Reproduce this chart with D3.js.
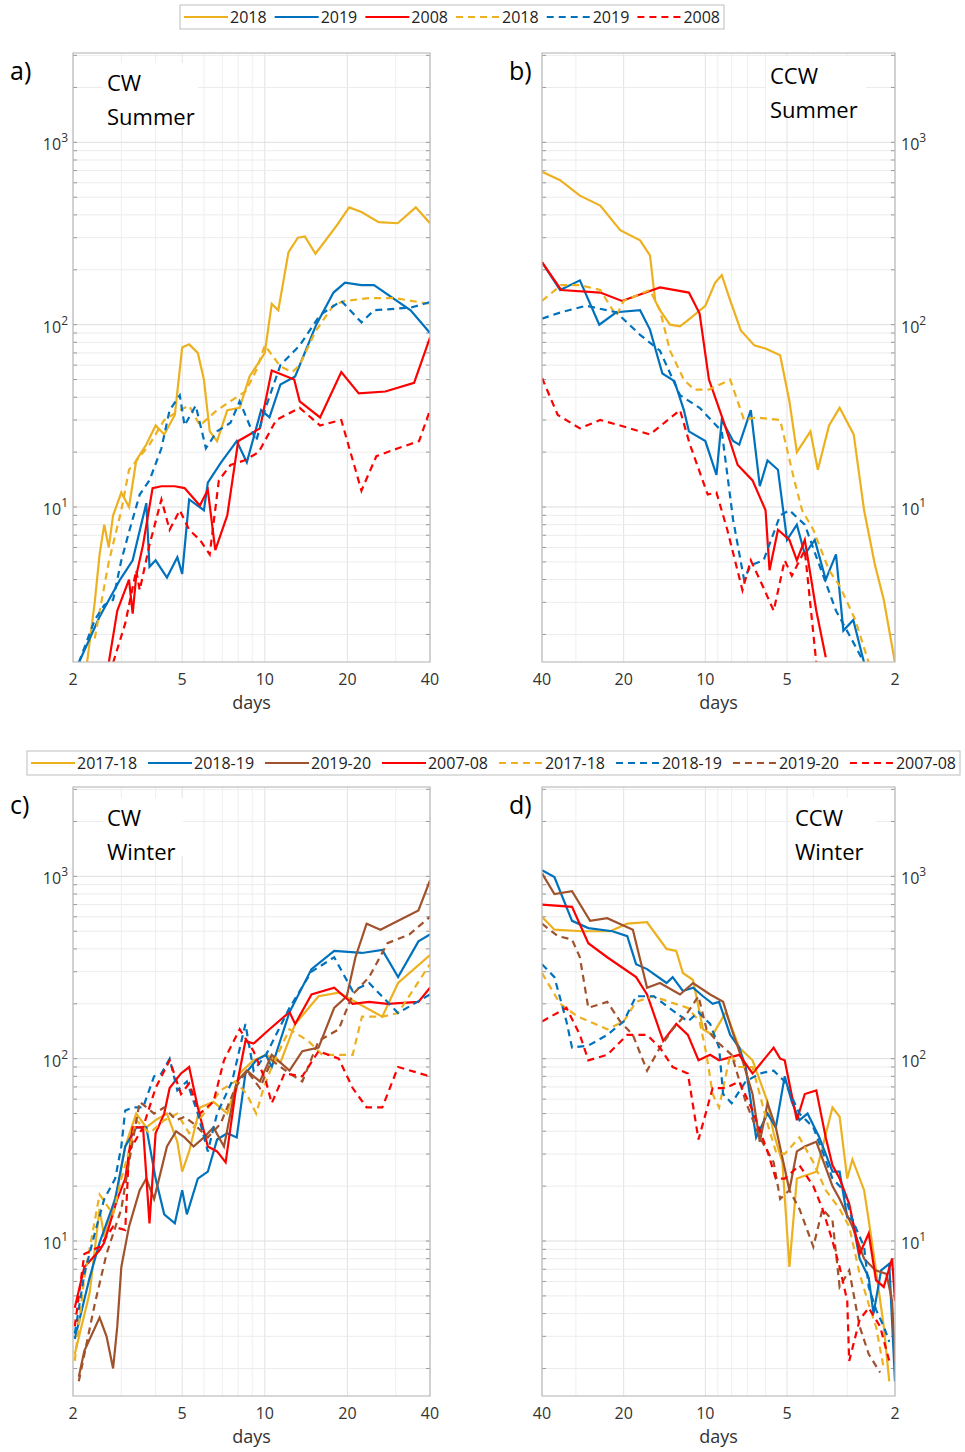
<!DOCTYPE html>
<html><head><meta charset="utf-8">
<script src="https://cdn.jsdelivr.net/npm/d3@7"></script>
<style>
body{margin:0;background:#fff;}
text{font-family:"Open Sans","DejaVu Sans",sans-serif;}
</style></head>
<body><div id="root"></div>
<script>
// ---- data: [days, value] ----
const cwSum2018 = [[2.25,1.4],[2.4,3],[2.5,5.5],[2.6,8],[2.7,6],[2.8,9],[3.0,12],[3.2,10],[3.4,18],[3.7,22],[4.0,28],[4.3,25],[4.7,32],[5.0,75],[5.3,78],[5.7,70],[6.0,50],[6.3,26],[6.7,23],[7.3,34],[8.1,35],[8.8,52],[9.5,62],[10,70],[10.6,130],[11.2,120],[12.2,250],[13.2,300],[14,305],[15.3,245],[18.3,350],[20.3,440],[22.5,415],[26,365],[30.5,360],[35.5,440],[40,360]];
const cwSum2019 = [[2.1,1.4],[2.5,2.5],[2.97,4],[3.3,5.1],[3.7,10.5],[3.8,4.7],[4.0,5.1],[4.4,4.1],[4.8,5.3],[5.0,4.3],[5.3,11],[6.0,9.6],[6.2,13.6],[6.9,17.4],[7.9,23],[8.6,17.6],[9.7,34],[10.4,31],[11.4,47],[12.9,52],[15.4,100],[17.8,150],[19.6,170],[22.5,165],[25,165],[34,120],[40,90]];
const cwSum2008 = [[2.7,1.4],[2.9,2.7],[3.2,4],[3.3,2.6],[3.4,4.2],[3.6,6.2],[3.9,12.7],[4.2,13],[4.7,13],[5.1,12.7],[5.8,10.2],[6.2,12.4],[6.6,5.8],[7.3,9],[8.0,23],[8.8,25],[9.6,27],[10.6,56],[12.8,50],[13.4,38],[15.9,31],[19,55],[22,42],[27.5,43],[35,48],[40,85]];
const cwSum2018d = [[2.4,1.9],[2.7,5],[3.0,9.6],[3.2,16],[3.8,22],[4.3,30],[4.9,34],[5.3,36],[5.8,28],[6.7,34],[7.5,38],[8.5,43],[9.3,56],[10,77],[11.4,59],[12.6,55],[13.4,60],[15.3,92],[17.8,128],[19.6,135],[24.2,140],[29.7,140],[40,130]];
const cwSum2019d = [[2.1,1.4],[2.4,2.4],[2.6,2.9],[2.8,3.1],[3.0,5.1],[3.2,7.3],[3.5,11.7],[3.8,14],[4.2,21],[4.5,34],[4.9,41],[5.1,28],[5.6,36],[6.1,21],[6.7,26],[7.5,29],[8.1,38],[9.3,23],[10,34],[11.4,60],[13.4,77],[15.9,113],[19,135],[22.5,103],[25,120],[34,124],[40,133]];
const cwSum2008d = [[2.8,1.4],[3.1,2.3],[3.4,4.5],[3.5,3.5],[3.8,6.2],[4.2,11],[4.5,7.5],[4.9,9.6],[5.3,7.5],[5.8,6.6],[6.3,5.5],[6.8,14],[7.5,17],[8.4,18],[9.5,20],[11,30],[13.4,35],[15.9,28],[19,30],[22.5,12.3],[25.5,19],[30.6,21],[36.5,23],[40,34]];

const ccwSum2018 = [[40,690],[34.3,620],[29,510],[24.4,450],[20.6,330],[17.4,290],[16,240],[15.3,135],[14.7,120],[13.5,100],[12.4,98],[11.4,108],[10,127],[9.2,170],[8.7,187],[8.1,136],[7.4,93],[6.6,77],[6,74],[5.3,68],[4.9,38],[4.6,20],[4.1,26],[3.85,16],[3.5,28],[3.2,35],[2.84,25],[2.6,9.6],[2.37,4.8],[2.2,3.1],[2.0,1.4]];
const ccwSum2019 = [[40,220],[34.3,155],[29,175],[24.6,100],[21.3,117],[17.4,120],[16,94],[14.4,54],[13,49],[12,34],[11.5,26],[10,23],[9.1,15],[8.7,30],[7.9,23],[7.5,22],[6.8,34],[6.3,13],[5.9,18],[5.4,16],[5.0,6.6],[4.6,8],[4.3,5.5],[3.95,6.6],[3.6,4],[3.3,5.5],[3.1,2.1],[2.85,2.4],[2.6,1.4]];
const ccwSum2008 = [[40,220],[34,155],[24.4,150],[20.3,135],[14.7,160],[11.5,150],[10.5,115],[9.7,50],[8.6,30],[7.6,17],[6.7,14],[6,9.6],[5.8,4.5],[5.4,7.5],[4.9,6.6],[4.6,5.1],[4.3,6.6],[3.9,2.7],[3.6,1.5]];
const ccwSum2018d = [[40,135],[34,165],[29,165],[24.4,155],[21.3,112],[20,135],[16,155],[14.7,120],[13.5,72],[12,50],[11,44],[9.7,44],[8.1,50],[7.2,30],[6.5,31],[5.3,30],[4.7,14],[4.4,9.6],[4.0,7.5],[3.5,4.5],[3.2,3.7],[2.8,2.4],[2.5,1.4]];
const ccwSum2019d = [[40,108],[34,117],[27.5,127],[21.3,117],[17.4,88],[14.7,72],[12.4,41],[10.5,35],[8.7,26],[7.9,8.5],[7.2,4],[6.8,4.8],[6.1,5.1],[5.3,9],[4.9,9.6],[4.3,8],[3.8,4.8],[3.3,2.7],[2.9,1.9],[2.6,1.4]];
const ccwSum2008d = [[40,51],[35,32],[29,27],[24.4,30],[20.6,28],[16,25],[12.4,34],[11.4,22],[9.8,11.7],[9.1,12],[8.3,7.5],[7.3,3.5],[6.8,5.1],[6.1,3.6],[5.6,2.7],[5.1,5.1],[4.8,4.2],[4.3,5.8],[3.9,1.4]];

const cwWin1718 = [[2.03,2.4],[2.3,5.2],[2.5,15],[2.6,10.5],[2.9,19],[3.1,33],[3.4,50],[3.7,42],[4.0,46],[4.4,50],[4.8,35],[5.0,24],[5.3,31],[5.8,54],[6.5,58],[7.3,50],[8.1,83],[9.1,98],[10.1,105],[11.4,95],[12.9,155],[15.7,220],[18.6,230],[22,200],[26.8,170],[30.6,260],[40,370]];
const cwWin1819 = [[2.03,2.9],[2.3,6.3],[2.5,9.8],[2.85,17],[3.1,33],[3.4,42],[3.7,42],[4,22],[4.3,14],[4.7,12.5],[5.0,19],[5.2,14],[5.7,22],[6.2,24],[6.7,36],[7.3,39],[7.9,37],[8.5,83],[9.3,98],[10.1,105],[10.6,90],[12.3,180],[14.8,310],[17.9,390],[22.6,380],[26.8,395],[30.6,280],[36.3,440],[40,480]];
const cwWin1920 = [[2.1,1.8],[2.2,2.5],[2.5,3.8],[2.65,3],[2.8,2.0],[2.9,3.4],[3.0,7.2],[3.2,12],[3.5,19],[3.7,22],[3.95,17],[4.4,33],[4.75,40],[5.1,37],[5.5,33],[6.0,37],[6.5,42],[7.1,33],[7.9,75],[8.6,86],[9.6,75],[10.6,105],[12.3,86],[13.7,110],[15.7,115],[17.9,190],[19.9,220],[21.4,360],[23.5,550],[26.4,510],[36.3,650],[40,950]];
const cwWin0708 = [[2.03,4.3],[2.2,7.2],[2.5,8.9],[2.6,9.8],[2.9,17],[3.1,22],[3.3,42],[3.6,42],[3.8,12.5],[4.0,39],[4.3,50],[4.5,69],[4.95,83],[5.3,90],[5.7,54],[6.2,33],[6.7,31],[7.2,27],[7.8,64],[8.5,125],[9.1,121],[10.4,145],[12.3,180],[12.9,155],[14.8,225],[17.9,245],[20.9,200],[24,205],[28,200],[36.3,205],[40,245]];
const cwWin1718d = [[2.03,2.2],[2.2,6.3],[2.5,18],[2.8,14],[3.0,22],[3.2,31],[3.4,46],[3.8,39],[4.3,46],[4.8,50],[5.3,39],[6.0,50],[6.9,67],[7.8,75],[8.6,64],[9.3,50],[9.9,69],[10.6,90],[12.3,145],[14.4,125],[16.2,105],[18.5,105],[20.9,105],[22.6,170],[26.8,170],[30.6,178],[40,330]];
const cwWin1819d = [[2.03,3.1],[2.2,6.6],[2.4,11],[2.6,17],[2.85,22],[3.0,33],[3.1,52],[3.3,54],[3.6,54],[3.95,80],[4.2,83],[4.5,100],[4.8,67],[5.2,75],[5.7,50],[6.2,31],[6.7,50],[7.6,75],[8.5,155],[9.1,86],[10.1,105],[12.3,190],[14.8,300],[17.9,360],[20.9,235],[24,260],[30.6,178],[40,225]];
const cwWin1920d = [[2.1,1.7],[2.4,4.5],[2.65,8.5],[3.0,15],[3.2,27],[3.5,58],[3.95,50],[4.3,54],[4.75,46],[5.1,48],[5.5,44],[6.2,37],[6.9,44],[7.8,69],[8.6,86],[9.6,69],[10.6,98],[12.3,83],[13.7,75],[15.7,125],[18.6,145],[20.9,225],[24,280],[28,430],[33.6,480],[40,600]];
const cwWin0708d = [[2.03,3.4],[2.2,8.5],[2.5,9.3],[2.8,12],[3.1,11.5],[3.2,31],[3.6,42],[4.0,69],[4.5,98],[4.95,64],[5.3,73],[5.8,50],[6.5,58],[7.1,98],[8.1,145],[9.1,110],[10.1,75],[10.6,57],[11.8,83],[13.7,80],[15.7,110],[18.6,100],[20.9,69],[23.5,54],[26.8,54],[30.6,90],[40,80]];

const ccwWin1718 = [[40,600],[36,510],[28.5,500],[22.4,500],[19.4,550],[16.4,560],[13.9,400],[12.8,390],[12.1,295],[11.1,270],[10.2,145],[9.4,135],[8.4,180],[7.5,115],[6.7,98],[5.9,58],[5.6,39],[5.2,27],[4.9,7.2],[4.6,22],[3.9,24],[3.4,54],[3.2,48],[3.0,22],[2.87,28],[2.6,19],[2.5,13],[2.36,7.2],[2.2,3.4],[2.1,1.7]];
const ccwWin1819 = [[40,1080],[36,990],[31,570],[27,520],[22,500],[19.4,470],[18,330],[16.4,310],[13.9,260],[13.2,280],[12.1,235],[11.1,245],[10.2,220],[9.4,200],[8.9,205],[8.1,135],[7.5,115],[7.1,90],[6.5,37],[5.9,50],[5.5,42],[5.1,80],[4.8,58],[4.5,46],[4.2,50],[3.8,37],[3.4,24],[3.2,24],[3.0,13.5],[2.87,13],[2.7,8],[2.5,6.3],[2.4,4],[2.25,6.9],[2.1,7.5],[2.0,1.7]];
const ccwWin1920 = [[40,1040],[36,800],[31,830],[26.6,570],[23,590],[18.5,510],[16.4,245],[14.7,260],[12.4,225],[11.1,260],[9.6,225],[8.6,205],[8.0,145],[7.3,98],[6.7,64],[6.3,35],[5.9,57],[5.5,42],[4.9,19],[4.6,31],[4.3,33],[3.9,35],[3.4,20],[3.2,17],[2.87,12],[2.6,8],[2.36,6.9],[2.15,6.6],[2.05,4.7],[2.0,2.2]];
const ccwWin0708 = [[40,700],[31,680],[27,430],[23,360],[18,280],[16.4,225],[14.3,125],[12.8,155],[11.6,135],[10.6,98],[9.6,105],[8.9,98],[7.5,105],[6.7,83],[5.6,115],[5.3,100],[5.1,98],[4.6,46],[4.3,64],[3.9,67],[3.6,37],[3.4,26],[3.2,22],[2.95,16],[2.7,8.5],[2.5,11],[2.35,6.1],[2.2,5.6],[2.05,8],[2.0,4.7]];
const ccwWin1718d = [[40,295],[34.3,200],[29.5,170],[23,145],[20,160],[18,205],[15.5,220],[13.6,205],[11.6,190],[10.5,160],[9.9,105],[9.4,64],[8.9,54],[8.1,105],[7.5,90],[6.7,90],[5.9,44],[5.5,31],[5.1,30],[4.5,37],[4.0,27],[3.6,19],[3.2,15],[2.95,12],[2.7,6.6],[2.5,4.5],[2.35,3.4],[2.2,2.0]];
const ccwWin1819d = [[40,330],[36,280],[32.5,160],[31,115],[27,118],[23,135],[20,160],[18,220],[15.5,220],[13.6,190],[11.6,160],[10.6,180],[9.6,155],[8.9,115],[8.6,64],[8.0,57],[7.1,75],[6.3,83],[5.6,86],[5.1,75],[4.5,50],[4.0,42],[3.7,31],[3.4,22],[3.1,19],[2.87,13],[2.6,9.3],[2.5,5.6],[2.35,4.2],[2.2,3.4],[2.1,2.8]];
const ccwWin1920d = [[40,550],[35,470],[31,450],[29,360],[27,190],[23,205],[20.6,160],[18.5,135],[16.4,86],[14.7,115],[13.2,145],[11.6,180],[10.6,220],[9.9,145],[8.9,121],[8.0,105],[7.1,58],[6.3,37],[5.6,27],[5.3,17],[4.9,19],[4.5,15],[4.0,9.3],[3.7,15],[3.4,13],[3.2,5.6],[2.95,6.9],[2.7,3.4],[2.5,2.4],[2.27,1.9]];
const ccwWin0708d = [[40,160],[32.5,190],[29,135],[27,98],[23,105],[19.4,135],[16.4,135],[14.7,115],[13.2,90],[11.6,83],[10.6,36],[9.9,52],[9.4,69],[8.4,69],[7.5,75],[6.7,52],[5.9,31],[5.5,22],[5.1,22],[4.5,26],[4.0,20],[3.7,15],[3.4,10],[3.2,7.2],[3.0,4.7],[2.95,2.2],[2.7,3.7],[2.5,4.3],[2.27,3.4],[2.1,2.2]];

const xTicks = [2, 5, 10, 20, 40];
const yTicks = [1, 2, 3];  // exponents
const summerLabels = ["2018", "2019", "2008"];
const winterLabels = ["2017-18", "2018-19", "2019-20", "2007-08"];

const C = {gold: "#EDB120", blue: "#0072BD", red: "#FF0000", brown: "#A0522D"};

const panels = [
  {tag: "a)", t1: "CW", t2: "Summer", x0: 73, x1: 430, y0: 53, y1: 662, rev: false, tx: 107, ty: 85, tw: 95,
   series: [[cwSum2018, C.gold, false], [cwSum2019, C.blue, false], [cwSum2008, C.red, false],
            [cwSum2018d, C.gold, true], [cwSum2019d, C.blue, true], [cwSum2008d, C.red, true]]},
  {tag: "b)", t1: "CCW", t2: "Summer", x0: 542, x1: 895, y0: 53, y1: 662, rev: true, tx: 770, ty: 78, tw: 100,
   series: [[ccwSum2018, C.gold, false], [ccwSum2019, C.blue, false], [ccwSum2008, C.red, false],
            [ccwSum2018d, C.gold, true], [ccwSum2019d, C.blue, true], [ccwSum2008d, C.red, true]]},
  {tag: "c)", t1: "CW", t2: "Winter", x0: 73, x1: 430, y0: 787, y1: 1396, rev: false, tx: 107, ty: 820, tw: 80,
   series: [[cwWin1718, C.gold, false], [cwWin1819, C.blue, false], [cwWin1920, C.brown, false], [cwWin0708, C.red, false],
            [cwWin1718d, C.gold, true], [cwWin1819d, C.blue, true], [cwWin1920d, C.brown, true], [cwWin0708d, C.red, true]]},
  {tag: "d)", t1: "CCW", t2: "Winter", x0: 542, x1: 895, y0: 787, y1: 1396, rev: true, tx: 795, ty: 820, tw: 85,
   series: [[ccwWin1718, C.gold, false], [ccwWin1819, C.blue, false], [ccwWin1920, C.brown, false], [ccwWin0708, C.red, false],
            [ccwWin1718d, C.gold, true], [ccwWin1819d, C.blue, true], [ccwWin1920d, C.brown, true], [ccwWin0708d, C.red, true]]},
];

const svg = d3.select("#root").append("svg").attr("width", 965).attr("height", 1452);
const yDomain = [Math.pow(10, 0.15), Math.pow(10, 3.49)];

panels.forEach((p, pi) => {
  const x = d3.scaleLog().domain(p.rev ? [40, 2] : [2, 40]).range([p.x0, p.x1]);
  const y = d3.scaleLog().domain(yDomain).range([p.y1, p.y0]);
  const g = svg.append("g");

  // grid
  const xMinor = [2, 3, 4, 5, 6, 7, 8, 9, 10, 20, 30, 40];
  const yMinor = [];
  for (let e = 0; e <= 3; e++) for (let m = 1; m <= 9; m++) {
    const v = m * Math.pow(10, e);
    if (v >= yDomain[0] && v <= yDomain[1]) yMinor.push(v);
  }
  g.selectAll(".xg").data(xMinor).enter().append("line")
    .attr("x1", d => x(d)).attr("x2", d => x(d)).attr("y1", p.y0).attr("y2", p.y1)
    .attr("stroke", d => xTicks.includes(d) ? "#e2e2e2" : "#efefef").attr("stroke-width", 1);
  g.selectAll(".yg").data(yMinor).enter().append("line")
    .attr("x1", p.x0).attr("x2", p.x1).attr("y1", d => y(d)).attr("y2", d => y(d))
    .attr("stroke", d => Number.isInteger(Math.log10(d)) ? "#dedede" : "#ececec").attr("stroke-width", 1);

  // tick marks on frame
  [p.x0, p.x1].forEach(xx => {
    g.selectAll(null).data(yMinor).enter().append("line")
      .attr("x1", xx).attr("x2", xx + (xx === p.x0 ? 4 : -4))
      .attr("y1", d => y(d)).attr("y2", d => y(d)).attr("stroke", "#999");
  });

  // series
  const clipId = "clip" + pi;
  svg.append("clipPath").attr("id", clipId).append("rect")
    .attr("x", p.x0).attr("y", p.y0).attr("width", p.x1 - p.x0).attr("height", p.y1 - p.y0);
  const line = d3.line().x(d => x(d[0])).y(d => y(d[1]));
  const lg = g.append("g").attr("clip-path", `url(#${clipId})`);
  p.series.forEach(([data, col, dashed]) => {
    lg.append("path").attr("d", line(data)).attr("fill", "none")
      .attr("stroke", col).attr("stroke-width", 2.2)
      .attr("stroke-dasharray", dashed ? "7,5" : null);
  });

  // frame
  g.append("rect").attr("x", p.x0).attr("y", p.y0).attr("width", p.x1 - p.x0).attr("height", p.y1 - p.y0)
    .attr("fill", "none").attr("stroke", "#bdbdbd").attr("stroke-width", 1.2);

  // title box
  g.append("rect").attr("x", p.tx - 4).attr("y", p.ty - 22).attr("width", p.tw).attr("height", 58).attr("fill", "#fff");
  g.append("text").attr("x", p.tx).attr("y", p.ty + 6).attr("font-size", 22).text(p.t1);
  g.append("text").attr("x", p.tx).attr("y", p.ty + 40).attr("font-size", 22).text(p.t2);
  g.append("text").attr("x", p.rev ? 509 : 10).attr("y", p.y0 + 27).attr("font-size", 25).text(p.tag);

  // x tick labels
  g.selectAll(".xt").data(xTicks).enter().append("text")
    .attr("x", d => x(d)).attr("y", p.y1 + 23).attr("text-anchor", "middle")
    .attr("font-size", 16).attr("fill", "#333").text(d => d);
  g.append("text").attr("x", (p.x0 + p.x1) / 2).attr("y", p.y1 + 47).attr("text-anchor", "middle")
    .attr("font-size", 18).attr("fill", "#333").text("days");

  // y tick labels
  yTicks.forEach(e => {
    const t = g.append("text").attr("y", y(Math.pow(10, e)) + 8).attr("font-size", 16).attr("fill", "#333");
    if (p.rev) t.attr("x", p.x1 + 6).attr("text-anchor", "start");
    else t.attr("x", p.x0 - 5).attr("text-anchor", "end");
    t.append("tspan").text("10");
    t.append("tspan").attr("font-size", 12).attr("dy", -8).text(e);
  });
});

// legends: entries spread to fill the box width
function legend(x0, y0, w, labels, colors, sample) {
  const g = svg.append("g");
  g.append("rect").attr("x", x0).attr("y", y0).attr("width", w).attr("height", 24)
    .attr("fill", "#fff").attr("stroke", "#bdbdbd");
  const items = [];
  [false, true].forEach(dashed => labels.forEach((lab, i) => items.push({lab, col: colors[i], dashed})));
  const texts = items.map(it => g.append("text").attr("y", y0 + 18).attr("font-size", 16)
    .attr("fill", "#222").text(it.lab));
  const used = texts.reduce((s, t) => s + t.node().getComputedTextLength() + sample + 2, 0);
  const gap = (w - 8 - used) / (items.length - 1);
  let cx = x0 + 4;
  items.forEach((it, i) => {
    g.append("line").attr("x1", cx).attr("x2", cx + sample).attr("y1", y0 + 12).attr("y2", y0 + 12)
      .attr("stroke", it.col).attr("stroke-width", 2.2).attr("stroke-dasharray", it.dashed ? "7,5" : null);
    texts[i].attr("x", cx + sample + 2);
    cx += sample + 2 + texts[i].node().getComputedTextLength() + gap;
  });
}
legend(180, 5, 544, summerLabels, [C.gold, C.blue, C.red], 44);
legend(27, 751, 933, winterLabels, [C.gold, C.blue, C.brown, C.red], 44);
</script>
</body></html>
